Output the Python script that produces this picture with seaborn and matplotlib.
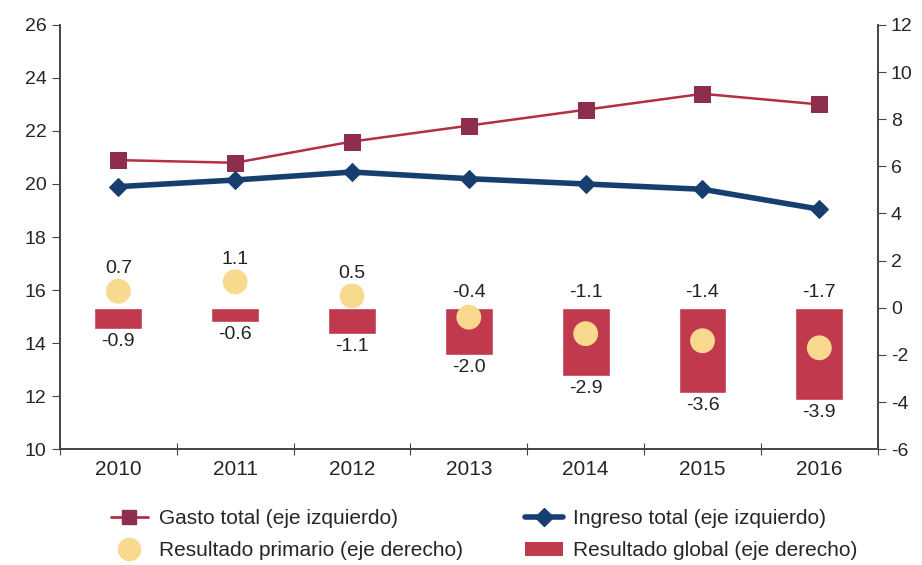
import pandas as pd
import matplotlib
matplotlib.use("Agg")
import matplotlib.pyplot as plt
from matplotlib.lines import Line2D
from matplotlib.patches import Patch
import seaborn as sns

# =========================
# Data
# =========================

years = ["2010", "2011", "2012", "2013", "2014", "2015", "2016"]
gasto_total = [20.9, 20.8, 21.6, 22.2, 22.8, 23.4, 23.0]
ingreso_total = [19.9, 20.15, 20.45, 20.2, 20.0, 19.8, 19.05]
resultado_primario = [0.7, 1.1, 0.5, -0.4, -1.1, -1.4, -1.7]
resultado_global = [-0.9, -0.6, -1.1, -2.0, -2.9, -3.6, -3.9]

df = pd.DataFrame({
    "year": years,
    "gasto": gasto_total,
    "ingreso": ingreso_total,
    "primario": resultado_primario,
    "global": resultado_global,
})

# colours
c_gasto_line = "#B33040"
c_gasto_mark = "#8E2E4E"
c_ingreso = "#163F70"
c_bar = "#C0394C"
c_circle = "#F8D98E"

sns.set_style("ticks")
plt.rcParams["font.family"] = ["Liberation Sans", "DejaVu Sans"]
plt.rcParams["axes.unicode_minus"] = False

fig = plt.figure(figsize=(9.22, 5.65), dpi=100)
ax = fig.add_axes([0.065, 0.205, 0.887, 0.751])
ax2 = ax.twinx()

# =========================
# Right axis: bars + circles
# =========================

sns.barplot(
    data=df, x="year", y="global", ax=ax2,
    color=c_bar, saturation=1, width=0.41, zorder=2
)
sns.scatterplot(
    data=df, x="year", y="primario", ax=ax2,
    color=c_circle, s=320, edgecolor="none", zorder=3, legend=False
)

for i, (p, g) in enumerate(zip(resultado_primario, resultado_global)):
    if p > 0:
        ax2.annotate(f"{p:.1f}", (i, p), xytext=(0, 10), textcoords="offset points",
                     ha="center", va="bottom", fontsize=14, color="#222222")
    else:
        ax2.annotate(f"{p:.1f}", (i, 0), xytext=(0, 5), textcoords="offset points",
                     ha="center", va="bottom", fontsize=14, color="#222222")
    ax2.annotate(f"{g:.1f}", (i, g), xytext=(0, -3), textcoords="offset points",
                 ha="center", va="top", fontsize=14, color="#222222")

# =========================
# Left axis: lines
# =========================

sns.lineplot(
    data=df, x="year", y="gasto", ax=ax,
    color=c_gasto_line, linewidth=1.8, marker="s", markersize=11,
    markerfacecolor=c_gasto_mark, markeredgecolor=c_gasto_mark, zorder=4
)
sns.lineplot(
    data=df, x="year", y="ingreso", ax=ax,
    color=c_ingreso, linewidth=4, marker="D", markersize=9,
    markerfacecolor=c_ingreso, markeredgecolor=c_ingreso, zorder=4
)
ax.set_zorder(ax2.get_zorder() + 1)
ax.patch.set_visible(False)

# =========================
# Axes styling
# =========================

ax.set_xlim(-0.5, 6.5)
ax.set_ylim(10, 26)
ax.set_yticks(range(10, 27, 2))
ax2.set_ylim(-6, 12)
ax2.set_yticks(range(-6, 13, 2))

ax.set_xticks([i - 0.5 for i in range(8)])
ax.set_xticklabels([])
ax.set_xticks(range(7), minor=True)
ax.set_xticklabels(years, minor=True, fontsize=15)
ax.tick_params(axis="x", which="major", direction="inout", length=9, color="#444444")
ax.tick_params(axis="x", which="minor", length=0, pad=8)
ax.tick_params(axis="y", length=6, color="#444444", labelsize=14)
ax2.tick_params(axis="y", length=6, color="#444444", labelsize=14)

ax.set_xlabel("")
ax.set_ylabel("")
ax2.set_xlabel("")
ax2.set_ylabel("")

for a in (ax, ax2):
    a.spines["top"].set_visible(False)
    for s in ("left", "right", "bottom"):
        a.spines[s].set_color("#444444")
        a.spines[s].set_linewidth(1.2)
    a.spines["right"].set_visible(True)

# =========================
# Legend
# =========================

handles = [
    Line2D([], [], color=c_gasto_line, lw=2, marker="s", ms=10,
           mfc=c_gasto_mark, mec=c_gasto_mark),
    Line2D([], [], ls="none", marker="o", ms=17, mfc=c_circle, mec="none"),
    Line2D([], [], color=c_ingreso, lw=4, marker="D", ms=9,
           mfc=c_ingreso, mec=c_ingreso),
    Patch(facecolor=c_bar, edgecolor="none"),
]
labels = [
    "Gasto total (eje izquierdo)",
    "Resultado primario (eje derecho)",
    "Ingreso total (eje izquierdo)",
    "Resultado global (eje derecho)",
]
fig.legend(
    handles, labels, ncol=2, loc="lower center", bbox_to_anchor=(0.525, -0.025),
    frameon=False, fontsize=15, handlelength=1.8, columnspacing=3.0,
    handletextpad=0.5, labelspacing=0.65
)

fig.savefig("out.png", dpi=100)
